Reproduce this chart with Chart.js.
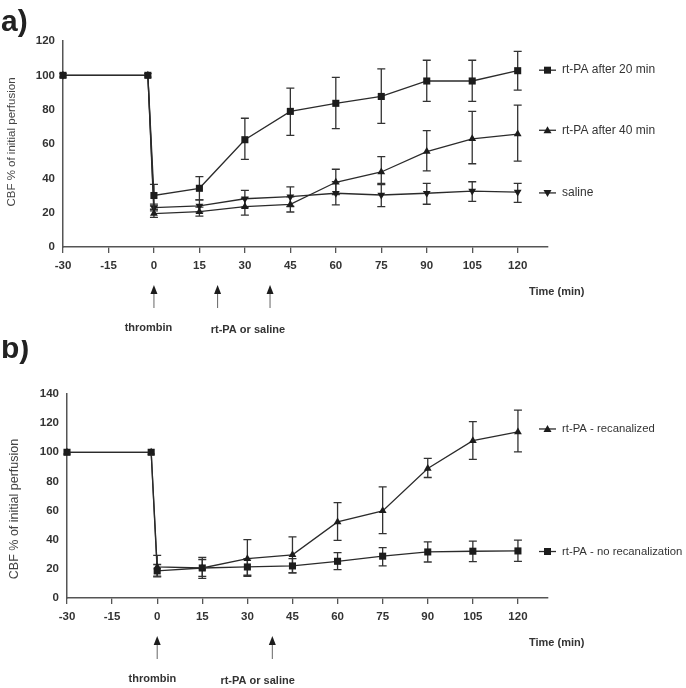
<!DOCTYPE html>
<html lang="en">
<head>
  <meta charset="UTF-8">
  <title>CBF % of initial perfusion</title>
  <script src="https://cdn.jsdelivr.net/npm/chart.js"></script>
  <style>
    html, body { margin: 0; padding: 0; background: #fff; overflow: hidden; }
    #wrap { position: relative; width: 686px; height: 688px; }
    canvas { position: absolute; left: 0; }
  </style>
</head>
<body>
  <div id="wrap">
    <canvas id="chartA" width="686" height="340" style="top:0px"></canvas>
    <canvas id="chartB" width="686" height="348" style="top:340px"></canvas>
  </div>

  <script>
    // shared time axis (min)
    const timePoints = [-30, -2, 0, 15, 30, 45, 60, 75, 90, 105, 120];
    const xTicks = [-30, -15, 0, 15, 30, 45, 60, 75, 90, 105, 120];
    const yTicksA = [0, 20, 40, 60, 80, 100, 120];
    const yTicksB = [0, 20, 40, 60, 80, 100, 120, 140];

    // panel a
    const after20 = [100, 100, 30, 34.2, 62.5, 79, 83.7, 87.7, 96.7, 96.7, 102.7];
    const after20Hi = [null, null, 36.5, 41, 75, 92.5, 98.8, 103.8, 108.8, 108.8, 114];
    const after20Lo = [null, null, 24, 27.5, 51, 65, 69, 72, 84.8, 84.8, 91.4];

    const after40 = [100, 100, 19.5, 20.6, 23.5, 24.8, 37.7, 43.7, 55.6, 63, 65.8];
    const after40Hi = [null, null, 22, 23.2, 28.4, 29.2, 45.3, 52.6, 67.8, 79, 82.6];
    const after40Lo = [null, null, 17.3, 18, 18.6, 20.4, 30.5, 36.3, 44.4, 48.5, 50];

    const saline = [100, 100, 22.9, 23.9, 28.1, 29.3, 31.3, 30.3, 31.3, 32.6, 32];
    const salineHi = [null, null, 25, 27.5, 33, 35, 38, 37, 37.1, 38, 37.1];
    const salineLo = [null, null, 21, 20.5, 23.2, 23.6, 24.5, 23.5, 24.9, 26.6, 26];

    // panel b
    const recan = [100, 100, 21.3, 20.6, 27, 29.6, 52.2, 59.8, 88.9, 108, 114];
    const recanHi = [null, null, 29.3, 27.8, 40.1, 41.9, 65.5, 76.3, 95.8, 121, 129];
    const recanLo = [null, null, 15, 13.5, 14.9, 17.3, 39.6, 44.2, 82.7, 95.1, 100.3];

    const noRecan = [100, 100, 18.6, 20.6, 21.3, 22, 25.2, 28.7, 31.6, 32.1, 32.3];
    const noRecanHi = [null, null, 23, 26.4, 27, 27, 31.2, 34.6, 38.5, 39, 39.7];
    const noRecanLo = [null, null, 14.5, 14.9, 15.6, 17.2, 19.5, 22, 24.7, 25, 25.2];

    const FONT = '"Liberation Sans", Arial, sans-serif';
    const INK = '#2b2b2b';

    function drawMarker(ctx, style, x, y) {
      ctx.save();
      ctx.fillStyle = '#1c1c1c';
      ctx.beginPath();
      if (style === 'rect') {
        ctx.rect(x - 3.5, y - 3.5, 7, 7);
      } else if (style === 'up') {
        ctx.moveTo(x, y - 4); ctx.lineTo(x + 4, y + 3); ctx.lineTo(x - 4, y + 3);
      } else {
        ctx.moveTo(x, y + 4); ctx.lineTo(x + 4, y - 3); ctx.lineTo(x - 4, y - 3);
      }
      ctx.closePath();
      ctx.fill();
      ctx.restore();
    }

    // error bars
    const errorBars = {
      id: 'errorBars',
      beforeDatasetsDraw(chart) {
        const ctx = chart.ctx;
        const y = chart.scales.y;
        ctx.save();
        ctx.strokeStyle = '#333';
        ctx.lineWidth = 1.3;
        chart.data.datasets.forEach((ds, di) => {
          const meta = chart.getDatasetMeta(di);
          ds.hi.forEach((hi, i) => {
            if (hi === null) return;
            const px = meta.data[i].x;
            const top = y.getPixelForValue(hi);
            const bot = y.getPixelForValue(ds.lo[i]);
            ctx.beginPath();
            ctx.moveTo(px, top); ctx.lineTo(px, bot);
            ctx.moveTo(px - 4, top); ctx.lineTo(px + 4, top);
            ctx.moveTo(px - 4, bot); ctx.lineTo(px + 4, bot);
            ctx.stroke();
          });
        });
        ctx.restore();
      }
    };

    // panel letter, axis title, legend, arrows
    const annot = {
      id: 'annot',
      afterDraw(chart, args, o) {
        const ctx = chart.ctx;
        const xs = chart.scales.x, ys = chart.scales.y;
        const area = chart.chartArea;
        ctx.save();

        ctx.fillStyle = '#222';
        ctx.font = 'bold 30px ' + FONT;
        ctx.textAlign = 'left';
        ctx.textBaseline = 'alphabetic';
        ctx.fillText(o.letter, 1, o.letterY);

        ctx.save();
        ctx.translate(o.titleX, (area.top + area.bottom) / 2 + o.titleShift);
        ctx.rotate(-Math.PI / 2);
        ctx.font = o.titleSize + 'px ' + FONT;
        ctx.fillStyle = '#444';
        ctx.textAlign = 'center';
        ctx.textBaseline = 'middle';
        ctx.fillText('CBF % of initial perfusion', 0, 0);
        ctx.restore();

        // legend
        ctx.font = o.legendSize + 'px ' + FONT;
        ctx.textAlign = 'left';
        ctx.textBaseline = 'middle';
        o.legend.forEach(item => {
          const ly = ys.getPixelForValue(item.at);
          ctx.strokeStyle = INK;
          ctx.lineWidth = 1.3;
          ctx.beginPath();
          ctx.moveTo(539, ly); ctx.lineTo(556, ly);
          ctx.stroke();
          drawMarker(ctx, item.style, 547.5, ly);
          ctx.fillStyle = '#333';
          ctx.fillText(item.label, 562, ly);
        });

        // time label
        ctx.font = 'bold 11px ' + FONT;
        ctx.fillStyle = '#333';
        ctx.fillText('Time (min)', 529, area.bottom + 45);

        // arrows
        o.arrows.forEach(t => {
          const ax = xs.getPixelForValue(t);
          const tip = area.bottom + 38, base = area.bottom + 61;
          ctx.strokeStyle = '#666';
          ctx.lineWidth = 1;
          ctx.beginPath();
          ctx.moveTo(ax, tip + 6); ctx.lineTo(ax, base);
          ctx.stroke();
          ctx.fillStyle = '#1c1c1c';
          ctx.beginPath();
          ctx.moveTo(ax, tip); ctx.lineTo(ax + 3.5, tip + 9); ctx.lineTo(ax - 3.5, tip + 9);
          ctx.closePath();
          ctx.fill();
        });

        ctx.font = 'bold 11px ' + FONT;
        ctx.textAlign = 'center';
        ctx.fillStyle = '#333';
        ctx.fillText('thrombin', xs.getPixelForValue(o.thrombinAt), area.bottom + 81);
        ctx.fillText('rt-PA or saline', xs.getPixelForValue(o.tpaAt), area.bottom + 83);

        ctx.restore();
      }
    };

    function series(values, hi, lo, style) {
      return {
        data: timePoints.map((t, i) => ({ x: t, y: values[i] })),
        hi: hi,
        lo: lo,
        clip: false,
        borderColor: INK,
        borderWidth: 1.3,
        pointStyle: style === 'rect' ? 'rect' : 'triangle',
        rotation: style === 'down' ? 180 : 0,
        pointRadius: style === 'rect' ? 5 : 4.5,
        pointBackgroundColor: '#1c1c1c',
        pointBorderColor: '#1c1c1c',
        pointBorderWidth: 0,
        tension: 0,
        fill: false
      };
    }

    function makeChart(id, datasets, yTicks, yMax, pad, axisW, axisH, annotOpts) {
      const tickFont = { family: FONT, size: 11.5, weight: 'bold' };
      return new Chart(document.getElementById(id), {
        type: 'line',
        data: { datasets: datasets },
        plugins: [errorBars, annot],
        options: {
          responsive: false,
          animation: false,
          layout: { padding: pad },
          plugins: {
            legend: { display: false },
            tooltip: { enabled: false },
            annot: annotOpts
          },
          scales: {
            x: {
              type: 'linear',
              min: -30,
              max: 130,
              afterBuildTicks: s => { s.ticks = xTicks.map(v => ({ value: v })); },
              afterFit: s => { s.height = axisH; },
              ticks: { color: '#333', font: tickFont, padding: 6, maxRotation: 0, autoSkip: false },
              grid: { drawOnChartArea: false, drawTicks: true, tickLength: 6, color: '#555', lineWidth: 1.3 },
              border: { color: '#555', width: 1.5 }
            },
            y: {
              min: 0,
              max: yMax,
              afterBuildTicks: s => { s.ticks = yTicks.map(v => ({ value: v })); },
              afterFit: s => { s.width = axisW; },
              ticks: { color: '#333', font: tickFont, padding: 8 },
              grid: { drawOnChartArea: false, drawTicks: false },
              border: { color: '#555', width: 1.5 }
            }
          }
        }
      });
    }

    makeChart('chartA', [
      series(after20, after20Hi, after20Lo, 'rect'),
      series(after40, after40Hi, after40Lo, 'up'),
      series(saline, salineHi, salineLo, 'down')
    ], yTicksA, 120, { top: 41, right: 138, left: 0, bottom: 0 }, 63, 93, {
      letter: 'a)', letterY: 31, titleX: 12, titleShift: -2, titleSize: 11.5, legendSize: 12,
      legend: [
        { label: 'rt-PA after 20 min', style: 'rect', at: 103 },
        { label: 'rt-PA after 40 min', style: 'up', at: 68 },
        { label: 'saline', style: 'down', at: 31.5 }
      ],
      arrows: [0, 21, 38.3], thrombinAt: -1.8, tpaAt: 31
    });

    makeChart('chartB', [
      series(recan, recanHi, recanLo, 'up'),
      series(noRecan, noRecanHi, noRecanLo, 'rect')
    ], yTicksB, 140, { top: 54, right: 138, left: 0, bottom: 0 }, 67, 90, {
      letter: 'b)', letterY: 18, titleX: 15, titleShift: 13, titleSize: 12.5, legendSize: 11.3,
      legend: [
        { label: 'rt-PA - recanalized', style: 'up', at: 116 },
        { label: 'rt-PA - no recanalization', style: 'rect', at: 31.9 }
      ],
      arrows: [0, 38.3], thrombinAt: -1.6, tpaAt: 33.4
    });
  </script>
</body>
</html>
